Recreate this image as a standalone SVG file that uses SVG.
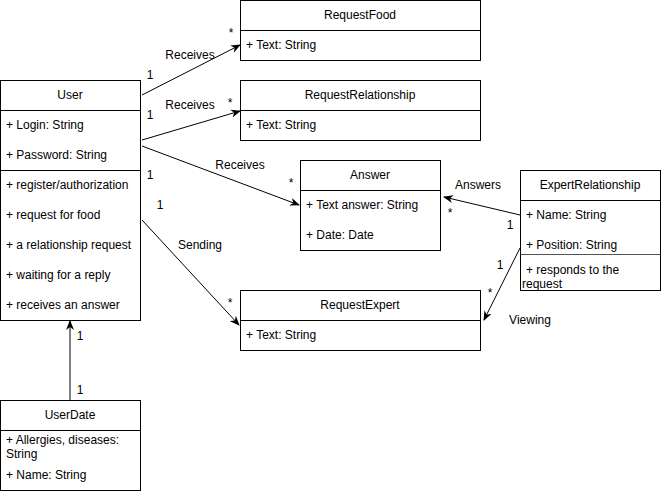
<svg xmlns="http://www.w3.org/2000/svg" width="663" height="491" viewBox="0 0 663 491">
<defs>
<style>
text{font-family:"Liberation Sans",Arial,sans-serif;font-size:12px;fill:#000}
.c{text-anchor:middle}
.box{fill:#fff;stroke:#000;stroke-width:1}
.ln{stroke:#000;stroke-width:1;fill:none}
.edge{stroke:#000;stroke-width:1;fill:none;marker-end:url(#arr)}
</style>
<marker id="arr" viewBox="0 0 10 10" refX="9" refY="5" markerWidth="10" markerHeight="10" markerUnits="userSpaceOnUse" orient="auto">
<path d="M0,1 L10,5 L0,9 L3,5 Z" fill="#000"/>
</marker>
</defs>
<rect width="663" height="491" fill="#fff"/>
<g id="connectors">
<path class="edge" d="M142,95 L240,45"/>
<path class="edge" d="M142,140 L240,111"/>
<path class="edge" d="M142,146 L299,205"/>
<path class="edge" d="M142,220 L239,325"/>
<path class="edge" d="M520,215 L444,197"/>
<path class="edge" d="M520,248 L484,320"/>
<path class="edge" d="M70,400 L70,321"/>
<text x="190" y="59" class="c">Receives</text>
<text x="150" y="79" class="c">1</text>
<text x="231" y="37" class="c">*</text>
<text x="190" y="109" class="c">Receives</text>
<text x="150" y="119" class="c">1</text>
<text x="230" y="107" class="c">*</text>
<text x="240" y="169" class="c">Receives</text>
<text x="150" y="179" class="c">1</text>
<text x="291" y="187" class="c">*</text>
<text x="200" y="249" class="c">Sending</text>
<text x="160" y="209" class="c">1</text>
<text x="230" y="307" class="c">*</text>
<text x="478" y="189" class="c">Answers</text>
<text x="450" y="217" class="c">*</text>
<text x="510" y="229" class="c">1</text>
<text x="500" y="269" class="c">1</text>
<text x="490" y="297" class="c">*</text>
<text x="530" y="324" class="c">Viewing</text>
<text x="80" y="340" class="c">1</text>
<text x="80" y="394" class="c">1</text>
</g>
<g id="User">
<rect class="box" x="0.5" y="80.5" width="140" height="240"/>
<path class="ln" d="M0.5,110.5 H140.5 M0.5,170.5 H140.5"/>
<text x="70" y="99" class="c">User</text>
<text x="6" y="129">+ Login: String</text>
<text x="6" y="159">+ Password: String</text>
<text x="6" y="189">+ register/authorization</text>
<text x="6" y="219">+ request for food</text>
<text x="6" y="249">+ a relationship request</text>
<text x="6" y="279">+ waiting for a reply</text>
<text x="6" y="309">+ receives an answer</text>
</g>
<g id="RequestFood">
<rect class="box" x="240.5" y="0.5" width="240" height="60"/>
<path class="ln" d="M240.5,30.5 H480.5"/>
<text x="360" y="19" class="c">RequestFood</text>
<text x="246" y="49">+ Text: String</text>
</g>
<g id="RequestRelationship">
<rect class="box" x="240.5" y="80.5" width="240" height="60"/>
<path class="ln" d="M240.5,110.5 H480.5"/>
<text x="360" y="99" class="c">RequestRelationship</text>
<text x="246" y="129">+ Text: String</text>
</g>
<g id="Answer">
<rect class="box" x="300.5" y="160.5" width="140" height="90"/>
<path class="ln" d="M300.5,190.5 H440.5"/>
<text x="370" y="179" class="c">Answer</text>
<text x="306" y="209">+ Text answer: String</text>
<text x="306" y="239">+ Date: Date</text>
</g>
<g id="RequestExpert">
<rect class="box" x="240.5" y="290.5" width="240" height="60"/>
<path class="ln" d="M240.5,320.5 H480.5"/>
<text x="360" y="309" class="c">RequestExpert</text>
<text x="246" y="339">+ Text: String</text>
</g>
<g id="ExpertRelationship">
<rect class="box" x="520.5" y="170.5" width="140" height="120"/>
<path class="ln" d="M520.5,200.5 H660.5"/>
<path d="M520.5,254.5 H660.5" stroke="#555" stroke-width="1.2" fill="none"/>
<text x="590" y="189" class="c">ExpertRelationship</text>
<text x="526" y="219">+ Name: String</text>
<text x="526" y="249">+ Position: String</text>
<text x="526" y="274">+ responds to the</text>
<text x="522" y="288">request</text>
</g>
<g id="UserDate">
<rect class="box" x="0.5" y="400.5" width="140" height="90"/>
<path class="ln" d="M0.5,430.5 H140.5"/>
<text x="70" y="419" class="c">UserDate</text>
<text x="6" y="444">+ Allergies, diseases:</text>
<text x="6" y="458">String</text>
<text x="6" y="479">+ Name: String</text>
</g>
</svg>
